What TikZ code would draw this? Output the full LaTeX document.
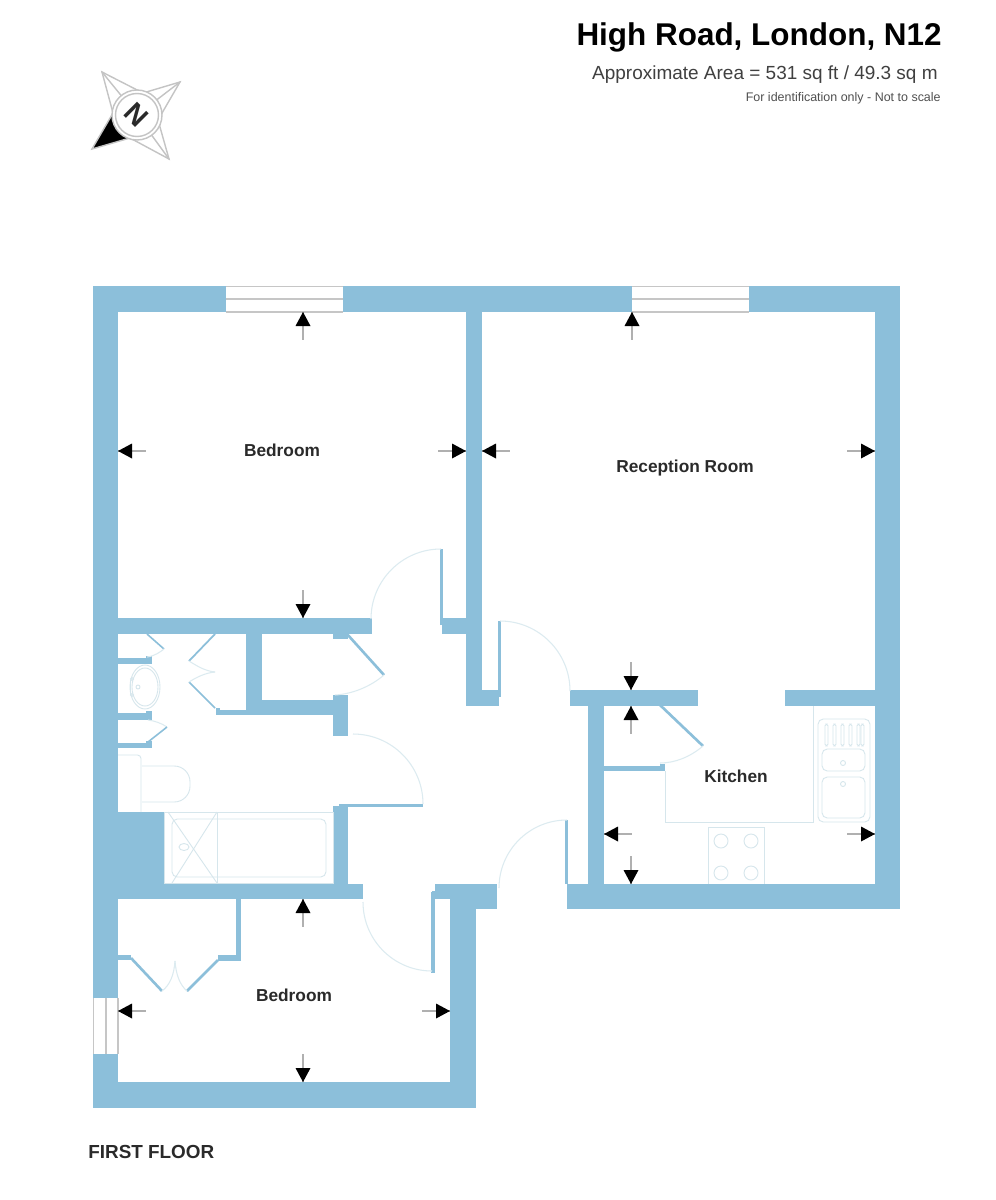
\documentclass[tikz,border=0pt]{standalone}
\usepackage{fontspec}
\setmainfont{Liberation Sans}
\definecolor{wallblue}{HTML}{8CBFDA}
\definecolor{fixture}{HTML}{D6E6EC}
\definecolor{doorarc}{HTML}{DCEBF0}
\definecolor{tailgrey}{HTML}{B0B0B0}
\definecolor{wingrey}{HTML}{C6C6C6}
\definecolor{compassgrey}{HTML}{C4C4C4}
\definecolor{labelink}{HTML}{2A2A2A}
\definecolor{areaink}{HTML}{404040}
\definecolor{noteink}{HTML}{505050}
\newcommand{\wallrect}[4]{\fill[wallblue] (#1,#2) rectangle (#3,#4);}
\tikzset{
  fix/.style={draw=fixture,line width=0.5pt},
  swing/.style={draw=doorarc,line width=0.6pt},
  leaf/.style={draw=wallblue,line width=1.5pt},
  thinleaf/.style={draw=wallblue,line width=0.9pt},
  winline/.style={draw=wingrey,line width=0.9pt},
  roomlabel/.style={font=\fontsize{9.85pt}{12pt}\selectfont\bfseries,text=labelink,inner sep=0pt},
  comp/.style={draw=compassgrey,line width=0.8pt}
}
\begin{document}
\begin{tikzpicture}[x=0.02cm,y=-0.02cm]
\useasboundingbox (0,0) rectangle (996,1200);
\fill[white] (0,0) rectangle (996,1200);

% Outer and structural walls
\wallrect{93}{286}{900}{312}
\wallrect{93}{286}{118}{1108}
\wallrect{875}{286}{900}{909}
\wallrect{567}{884}{900}{909}
\wallrect{93}{1082}{476}{1108}
\wallrect{450}{884}{476}{1108}
\wallrect{435}{884}{497}{899}
\wallrect{450}{884}{497}{909}
\wallrect{432}{891}{436}{899}
\wallrect{466}{312}{482}{706}
\wallrect{466}{690}{499}{706}
\wallrect{118}{618}{372}{634}
\wallrect{442}{618}{466}{634}
\wallrect{570}{690}{698}{706}
\wallrect{785}{690}{875}{706}
\wallrect{588}{706}{604}{884}
\wallrect{604}{766}{665}{771}
\wallrect{660}{764}{665}{771}
\wallrect{93}{812}{164}{884}
\wallrect{93}{884}{363}{899}
\wallrect{333}{806}{348}{884}
\wallrect{333}{695}{348}{736}
\wallrect{262}{700}{333}{715}
\wallrect{246}{634}{262}{715}
\wallrect{216}{710}{246}{715}
\wallrect{216}{708}{220}{712}
\wallrect{333}{634}{348}{639}
\wallrect{118}{658}{152}{664}
\wallrect{146}{656}{152}{664}
\wallrect{118}{713}{152}{720}
\wallrect{146}{711}{152}{720}
\wallrect{118}{743}{152}{748}
\wallrect{146}{741}{152}{748}
\wallrect{236}{899}{241}{961}
\wallrect{218}{955}{241}{961}
\wallrect{118}{955}{131}{960}
\wallrect{498}{621}{501}{697}
\wallrect{440}{549}{443}{625}
\wallrect{431}{892}{435}{973}
\wallrect{565}{820}{568}{884}
\wallrect{339}{804}{423}{807}

% Windows
\foreach \wx in {226,632}{
  \fill[white] (\wx,286) rectangle (\wx+117,312);
  \draw[winline] (\wx,286.5) -- (\wx+117,286.5);
  \draw[winline] (\wx,299) -- (\wx+117,299);
  \draw[winline] (\wx,312) -- (\wx+117,312);
}
\fill[white] (93,998) rectangle (118,1054);
\draw[winline] (93.5,998) -- (93.5,1054);
\draw[winline] (106,998) -- (106,1054);
\draw[winline] (118,998) -- (118,1054);

% Doors
\draw[swing] (441,549) arc[start angle=270,end angle=180,radius=70];
\draw[swing] (500,621) arc[start angle=270,end angle=360,radius=70];
\draw[swing] (567,820) arc[start angle=270,end angle=180,radius=68];
\draw[swing] (432,971) arc[start angle=90,end angle=180,radius=69];
\draw[swing] (423,804) arc[start angle=0,end angle=-90,radius=70];

% Cupboard doors
\draw[leaf] (660,705) -- (703,746);
\draw[swing] (703,746) .. controls (690,757) and (675,763) .. (660,763);
\draw[leaf] (347,634) -- (384,675);
\draw[swing] (384,675) .. controls (370,687) and (352,694) .. (335,695);
\draw[thinleaf] (147,634) -- (164,649);
\draw[swing] (164,649) .. controls (160,652) and (155,656) .. (147,657);
\draw[swing] (148,720) .. controls (155,721) and (161,723) .. (167,727);
\draw[thinleaf] (167,727) -- (148,742);
\draw[leaf,line width=1pt] (215,634) -- (189,661);
\draw[swing] (189,661) .. controls (197,666) and (205,671) .. (215,672);
\draw[leaf,line width=1pt] (189,682) -- (215,708);
\draw[swing] (189,682) .. controls (197,677) and (205,673) .. (215,672);
\draw[leaf] (131,958) -- (162,991);
\draw[swing] (162,991) .. controls (170,985) and (174,975) .. (175,961);
\draw[leaf] (218,960) -- (187,991);
\draw[swing] (187,991) .. controls (180,985) and (176,975) .. (175,961);

% Kitchen fixtures
\draw[fix] (665,771) -- (665,822) -- (813,822) -- (813,706);
\draw[fix,rounded corners=3pt] (818,719) rectangle (870,822);
\draw[fix,rounded corners=3pt] (822,749) rectangle (865,771);
\draw[fix,rounded corners=3pt] (822,777) rectangle (865,818);
\foreach \dx in {826,834,842,850,858,862}{
  \draw[fix,rounded corners=1pt] (\dx-1,724) rectangle (\dx+2,746);
}
\draw[fix] (843,763) circle[radius=2.5];
\draw[fix] (843,784) circle[radius=2.5];
\draw[fix] (708,884) -- (708,827) -- (764,827) -- (764,884);
\foreach \hx/\hy in {721/841,751/841,721/873,751/873}{
  \draw[fix] (\hx,\hy) circle[radius=7];
}

% Bathroom fixtures
\draw[fix] (145,687) ellipse[x radius=15,y radius=22];
\draw[fix] (145,687) ellipse[x radius=13,y radius=19];
\draw[fix] (130,680) -- (130,695);
\draw[fix] (138,687) circle[radius=2];
\draw[fix] (132,679) circle[radius=1.5];
\draw[fix] (132,695) circle[radius=1.5];
\draw[fix,rounded corners=2pt] (118,755) -- (141,755) -- (141,812);
\draw[fix,rounded corners=9pt] (142,766) -- (190,766) -- (190,802) -- (142,802);
\draw[fix] (164,812) rectangle (333,883);
\draw[fix,rounded corners=3pt] (172,819) rectangle (326,877);
\draw[fix] (217,812) -- (217,883);
\draw[fix] (168,812) -- (217,883);
\draw[fix] (217,812) -- (172,883);
\draw[fix] (184,847) ellipse[x radius=5,y radius=3.5];

% Dimension arrows: tip x / tip y / unit vector from tip to tail
\foreach \ax/\ay/\ux/\uy in {
  303/312/0/1, 118/451/1/0, 466/451/-1/0, 303/618/0/-1,
  632/312/0/1, 482/451/1/0, 875/451/-1/0, 631/690/0/-1,
  631/706/0/1, 604/834/1/0, 875/834/-1/0, 631/884/0/-1,
  303/899/0/1, 118/1011/1/0, 450/1011/-1/0, 303/1082/0/-1}{
  \draw[tailgrey,line width=0.7pt] (\ax,\ay) -- ({\ax+28*\ux},{\ay+28*\uy});
  \fill[black] (\ax,\ay) -- ({\ax+14*\ux+7.5*\uy},{\ay+14*\uy+7.5*\ux}) -- ({\ax+14*\ux-7.5*\uy},{\ay+14*\uy-7.5*\ux}) -- cycle;
}

% Compass
\fill[black] (92,149) -- (113,113) -- (130,138) -- cycle;
\draw[comp] (102,72) -- (113,113) -- (92,149) -- (130,138) -- (169,159) -- (158,120) -- (180,82) -- (143,93) -- cycle;
\draw[comp] (102,72) -- (137,115) (180,82) -- (137,115) (169,159) -- (137,115);
\fill[white] (137,115) circle[radius=25];
\draw[comp] (137,115) circle[radius=25];
\draw[comp] (137,115) circle[radius=21.5];
\node[font=\fontsize{16pt}{16pt}\selectfont\bfseries,rotate=-45,inner sep=0pt,text=labelink] (north) at (137,115) {N};

% Text
\node[anchor=base east,inner sep=0pt,font=\fontsize{17.9pt}{20pt}\selectfont\bfseries,text=black] (title) at (942,45) {High Road, London, N12};
\node[anchor=base east,inner sep=0pt,font=\fontsize{10.8pt}{13pt}\selectfont,text=areaink] (area) at (938,79) {Approximate Area = 531 sq ft / 49.3 sq m};
\node[anchor=base east,inner sep=0pt,font=\fontsize{7.1pt}{9pt}\selectfont,text=noteink] (note) at (941,101) {For identification only - Not to scale};
\node[roomlabel] (bedA) at (282,450) {Bedroom};
\node[roomlabel] (recep) at (685,468) {Reception Room};
\node[roomlabel] (kitch) at (736,776) {Kitchen};
\node[roomlabel] (bedB) at (294,995) {Bedroom};
\node[anchor=west,inner sep=0pt,font=\fontsize{10.75pt}{13pt}\selectfont\bfseries,text=labelink] (floor) at (88,1152) {FIRST FLOOR};
\end{tikzpicture}
\end{document}
